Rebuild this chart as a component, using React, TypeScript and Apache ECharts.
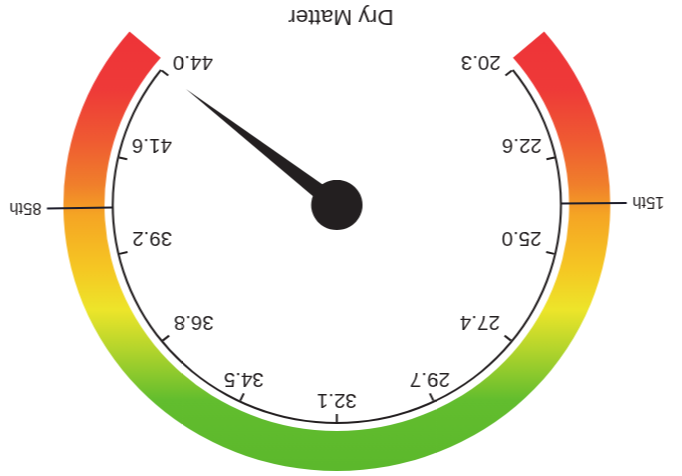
import React, { useEffect, useRef } from 'react';
import * as echarts from 'echarts';

const TITLE = 'Dry Matter';
const GAUGE_MIN = 20.3;
const GAUGE_MAX = 44.0;
const TICK_LABELS = ['20.3', '22.6', '25.0', '27.4', '29.7', '32.1', '34.5', '36.8', '39.2', '41.6', '44.0'];
const POINTER_VALUE = 44.0;
const MARKER_NAMES = ['15th', '85th'];
const MARKER_VALUES = [23.8, 40.4];
const BAND_STOPS = [0, 0.158, 0.271, 0.362, 0.452, 0.577, 0.645, 0.747, 0.86, 1.0];
const BAND_COLORS = ['#5cb82c', '#62bd2e', '#b2d42c', '#ede52a', '#f5c823', '#f5a524', '#f07f2b', '#ef5a32', '#ee3a38', '#ee3338'];

const FONT = '"Liberation Sans", Arial, Helvetica, sans-serif';
const INK = '#231f20';

export default function App() {
  const ref = useRef<HTMLDivElement>(null);

  useEffect(() => {
    const chart = echarts.init(ref.current as HTMLDivElement, null, { renderer: 'svg' });
    const CX = 345;
    const CY = 271;
    const START = 218.3;
    const END = -38.3;
    const AXIS_R = 219;
    const TICK_LEN = 8;
    const TICK_INNER_R = AXIS_R - 2 - TICK_LEN;
    const HALF_W = 24;
    const DROP = 13;
    const angleOf = (v: number) =>
      ((START - ((v - GAUGE_MIN) / (GAUGE_MAX - GAUGE_MIN)) * (START - END)) * Math.PI) / 180;
    const markerLabelR = 303;
    const step = (GAUGE_MAX - GAUGE_MIN) / (TICK_LABELS.length - 1);

    const gradient = new echarts.graphic.LinearGradient(
      0, 6, 0, 448,
      BAND_STOPS.map((o, i) => ({ offset: o, color: BAND_COLORS[i] })),
      true
    );

    const hidden = {
      axisTick: { show: false },
      splitLine: { show: false },
      axisLabel: { show: false },
      detail: { show: false },
    };
    const common = {
      type: 'gauge',
      center: [CX, CY],
      min: GAUGE_MIN,
      max: GAUGE_MAX,
    };

    chart.setOption({
      animation: false,
      backgroundColor: '#ffffff',
      title: {
        text: TITLE,
        left: 'center',
        top: 443,
        textStyle: { fontSize: 22, fontWeight: 'normal', color: INK, fontFamily: FONT },
      },
      series: [
        {
          ...common,
          radius: 266,
          startAngle: 220.7,
          endAngle: -40.7,
          axisLine: { lineStyle: { width: 40, color: [[1, gradient]] } },
          ...hidden,
          pointer: { show: false },
          anchor: { show: false },
          title: { show: false },
          data: [],
        },
        {
          ...common,
          radius: 282,
          startAngle: START,
          endAngle: END,
          axisLine: { show: false },
          ...hidden,
          pointer: {
            icon: 'path://M0,0L1,0L1,64L0,64Z M0,281.8L1,281.8L1,282L0,282Z',
            length: 282,
            width: 2,
            itemStyle: { color: '#1d1d2b' },
          },
          anchor: { show: false },
          title: { show: true, fontSize: 16, color: INK, fontFamily: FONT },
          data: MARKER_VALUES.map((v, i) => ({
            value: v,
            name: MARKER_NAMES[i],
            title: {
              offsetCenter: [markerLabelR * Math.cos(angleOf(v)), -markerLabelR * Math.sin(angleOf(v))],
            },
          })),
        },
        {
          ...common,
          radius: AXIS_R,
          startAngle: START,
          endAngle: END,
          axisLine: { show: false },
          ...hidden,
          pointer: { show: false },
          anchor: { show: false },
          title: { show: true, fontSize: 20, color: INK, fontFamily: FONT },
          data: TICK_LABELS.map((t, i) => {
            const v = GAUGE_MIN + i * step;
            const a = angleOf(v);
            const ux = Math.cos(a);
            const uy = -Math.sin(a);
            const dx = ux < -0.5 ? HALF_W : ux > 0.5 ? -HALF_W : 0;
            return {
              value: v,
              name: t,
              title: { offsetCenter: [ux * TICK_INNER_R + dx, uy * TICK_INNER_R + DROP] },
            };
          }),
        },
        {
          ...common,
          radius: AXIS_R,
          startAngle: START,
          endAngle: END,
          splitNumber: TICK_LABELS.length - 1,
          axisLine: { lineStyle: { width: 2, color: [[1, INK]] } },
          splitLine: { length: TICK_LEN, distance: 0, lineStyle: { width: 2, color: INK } },
          axisTick: { show: false },
          axisLabel: { show: false },
          pointer: { icon: 'triangle', length: 187, width: 17, itemStyle: { color: INK } },
          anchor: { show: true, showAbove: true, size: 50, itemStyle: { color: INK } },
          title: { show: false },
          detail: { show: false },
          data: [{ value: POINTER_VALUE }],
        },
      ],
    });
    return () => chart.dispose();
  }, []);

  return (
    <div
      ref={ref}
      style={{
        position: 'fixed',
        left: 0,
        top: 0,
        width: 682,
        height: 476,
        background: '#ffffff',
        transform: 'rotate(180deg) scaleX(1.028)',
      }}
    />
  );
}
